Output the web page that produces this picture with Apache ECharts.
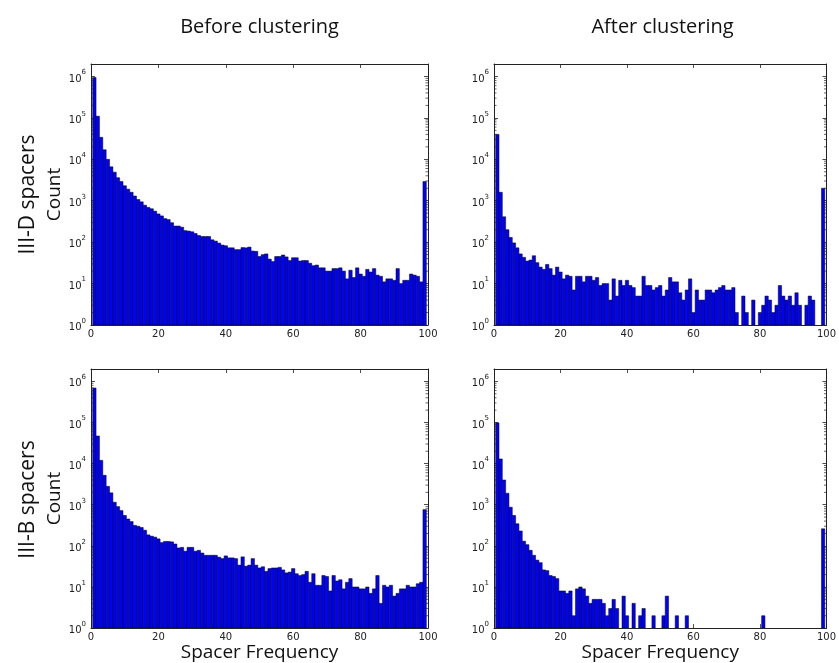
<!DOCTYPE html>
<html>
<head>
<meta charset="utf-8">
<script src="https://cdn.jsdelivr.net/npm/echarts@6/dist/echarts.min.js"></script>
<style>
  html, body { margin: 0; padding: 0; background: #fff; }
  #chart { width: 839px; height: 663px; }
</style>
</head>
<body>
<div id="chart"></div>
<script>
// bin centres (spacer frequency, %)
const bins = [
  1, 2, 3, 4, 5, 6, 7, 8, 9, 10, 11, 12, 13, 14, 15, 16, 17, 18, 19, 20,
  21, 22, 23, 24, 25, 26, 27, 28, 29, 30, 31, 32, 33, 34, 35, 36, 37, 38, 39, 40,
  41, 42, 43, 44, 45, 46, 47, 48, 49, 50, 51, 52, 53, 54, 55, 56, 57, 58, 59, 60,
  61, 62, 63, 64, 65, 66, 67, 68, 69, 70, 71, 72, 73, 74, 75, 76, 77, 78, 79, 80,
  81, 82, 83, 84, 85, 86, 87, 88, 89, 90, 91, 92, 93, 94, 95, 96, 97, 98, 99
];

// III-D, before clustering
const beforeD = [
  950000, 110000, 34000, 17000, 10000, 6600, 4900, 3600, 2900, 2300,
  1900, 1600, 1300, 1070, 940, 780, 690, 640, 560, 480,
  430, 370, 350, 295, 245, 245, 230, 190, 185, 178,
  162, 145, 137, 137, 137, 114, 106, 95, 85, 82,
  73, 73, 66, 66, 74, 73, 76, 61, 60, 45,
  50, 52, 39, 34, 45, 45, 49, 44, 36, 42,
  42, 35, 36, 36, 31, 27, 28, 24, 24, 20,
  20, 23, 23, 24, 20, 13, 21, 14, 24, 17,
  15, 22, 19, 23, 16, 15, 11, 13, 13, 12,
  23, 10, 12, 12, 17, 16, 15, 11, 2900
];

// III-D, after clustering
const afterD = [
  40000, 1600, 410, 200, 130, 96, 73, 52, 43, 35,
  37, 47, 32, 25, 22, 29, 23, 16, 25, 19,
  13, 16, 15, 7, 15, 15, 11, 15, 15, 12,
  14, 9, 10, 10, 4, 13, 5, 12, 9, 12,
  9, 8, 5, 5, 15, 9, 9, 7, 8, 9,
  5, 7, 14, 11, 11, 6, 4, 7, 13, 2,
  7, 4, 4, 7, 7, 6, 7, 8, 9, 7,
  7, 8, 2, 0, 5, 2, 0, 4, 0, 2,
  3, 5, 4, 2, 3, 9, 5, 4, 5, 3,
  6, 3, 0, 3, 5, 4, 0, 0, 2000
];

// III-B, before clustering
const beforeB = [
  690000, 47000, 12000, 5200, 2800, 1950, 1150, 900, 720, 550,
  450, 390, 315, 300, 280, 240, 185, 172, 163, 148,
  120, 128, 128, 125, 111, 89, 92, 74, 92, 92,
  74, 78, 67, 59, 59, 59, 59, 53, 49, 57,
  51, 51, 49, 34, 54, 32, 34, 49, 34, 29,
  31, 24, 28, 29, 29, 30, 26, 22, 23, 28,
  21, 19, 20, 24, 13, 21, 11, 11, 19, 18,
  8, 19, 14, 15, 9, 13, 16, 10, 10, 9,
  9, 10, 7, 9, 19, 4, 11, 10, 11, 6,
  7, 9, 9, 11, 10, 10, 12, 13, 760
];

// III-B, after clustering
const afterB = [
  98000, 13000, 4000, 1900, 870, 550, 345, 230, 130, 107,
  78, 59, 45, 39, 26, 25, 19, 18, 16, 8,
  8, 7, 8, 2, 9, 10, 9, 6, 4, 5,
  5, 5, 4, 2, 3, 5, 3, 0, 6, 2,
  0, 4, 0, 2, 3, 0, 0, 2, 0, 0,
  2, 6, 0, 0, 2, 0, 0, 2, 0, 0,
  0, 0, 0, 0, 0, 0, 0, 0, 0, 0,
  0, 0, 0, 0, 0, 0, 0, 0, 0, 0,
  2, 0, 0, 0, 0, 0, 0, 0, 0, 0,
  0, 0, 0, 0, 0, 0, 0, 0, 260
];

const xMin = 0, xMax = 100, xStep = 20;
const yMin = 1, yMax = 2000000;
const colTitles = ['Before clustering', 'After clustering'];
const rowTitles = ['III-D spacers', 'III-B spacers'];
const xName = 'Spacer Frequency';
const yName = 'Count';

const panels = [
  { row: 0, col: 0, counts: beforeD },
  { row: 0, col: 1, counts: afterD },
  { row: 1, col: 0, counts: beforeB },
  { row: 1, col: 1, counts: afterB }
];

// layout (px)
const colLeft = [91, 494];
const rowTop = [64, 369];
const plotW = 337, plotH = 261;
const frame = '#222';
const tickFont = 'DejaVu Sans';
const textFont = '"Open Sans", "Noto Sans", sans-serif';

function renderBar(params, api) {
  const x = api.value(0);
  const y = api.value(1);
  const tl = api.coord([x - 0.5, y]);
  const br = api.coord([x + 0.5, yMin]);
  return {
    type: 'rect',
    shape: { x: tl[0], y: tl[1], width: br[0] - tl[0], height: br[1] - tl[1] },
    style: { fill: '#0000ff', stroke: '#000', lineWidth: 0.5 }
  };
}

// matplotlib-style log minor ticks on both vertical sides
const minorVals = [];
for (let d = 0; d <= 6; d++) {
  for (let m = 2; m <= 9; m++) {
    const v = m * Math.pow(10, d);
    if (v < yMax) minorVals.push(v);
  }
}
function renderMinor(params, api) {
  const v = api.value(0);
  const l = api.coord([xMin, v]);
  const r = api.coord([xMax, v]);
  const st = { stroke: frame, lineWidth: 0.7 };
  return {
    type: 'group',
    children: [
      { type: 'line', shape: { x1: l[0], y1: l[1], x2: l[0] + 2.5, y2: l[1] }, style: st },
      { type: 'line', shape: { x1: r[0] - 2.5, y1: r[1], x2: r[0], y2: r[1] }, style: st }
    ]
  };
}

function logLabel(v) {
  const e = Math.round(Math.log10(v));
  if (Math.abs(v - Math.pow(10, e)) > 1e-6 * v) return '';
  return '{b|10}{s|' + e + '}';
}

const grid = [], xAxis = [], yAxis = [], series = [];
panels.forEach((p, i) => {
  grid.push({ left: colLeft[p.col], top: rowTop[p.row], width: plotW, height: plotH });
  const lineStyle = { color: frame, width: 1 };
  const tickIn = { show: true, inside: true, length: 4, lineStyle: { color: frame, width: 0.8 } };
  xAxis.push({
    type: 'value', gridIndex: i, min: xMin, max: xMax, interval: xStep,
    axisLine: { show: true, onZero: false, lineStyle },
    axisTick: tickIn,
    splitLine: { show: false },
    axisLabel: { color: '#222', fontFamily: tickFont, fontSize: 10, margin: 4 },
    name: p.row === 1 ? xName : '',
    nameLocation: 'middle', nameGap: 13,
    nameTextStyle: { color: '#111', fontFamily: textFont, fontSize: 19 }
  });
  xAxis.push({
    type: 'value', gridIndex: i, position: 'top', min: xMin, max: xMax, interval: xStep,
    axisLine: { show: true, onZero: false, lineStyle },
    axisTick: tickIn, splitLine: { show: false }, axisLabel: { show: false }
  });
  yAxis.push({
    type: 'log', logBase: 10, gridIndex: i, min: yMin, max: yMax, splitNumber: 6,
    axisLine: { show: true, onZero: false, lineStyle },
    axisTick: tickIn,
    splitLine: { show: false },
    axisLabel: {
      formatter: logLabel, margin: 5,
      rich: {
        b: { fontFamily: tickFont, fontSize: 10, color: '#222', lineHeight: 15, verticalAlign: 'bottom' },
        s: { fontFamily: tickFont, fontSize: 7, color: '#222', lineHeight: 15, verticalAlign: 'top' }
      }
    },
    name: p.col === 0 ? yName : '',
    nameLocation: 'middle', nameGap: 27, nameRotate: 90,
    nameTextStyle: { color: '#111', fontFamily: textFont, fontSize: 19 }
  });
  yAxis.push({
    type: 'log', logBase: 10, gridIndex: i, position: 'right', min: yMin, max: yMax, splitNumber: 6,
    axisLine: { show: true, onZero: false, lineStyle },
    axisTick: tickIn, splitLine: { show: false }, axisLabel: { show: false }
  });
  series.push({
    type: 'custom', xAxisIndex: 2 * i, yAxisIndex: 2 * i,
    renderItem: renderBar, clip: true, silent: true,
    data: bins.map((b, k) => [b, p.counts[k]]).filter(d => d[1] > 0)
  });
  series.push({
    type: 'custom', xAxisIndex: 2 * i, yAxisIndex: 2 * i,
    renderItem: renderMinor, silent: true,
    data: minorVals.map(v => [v])
  });
});

const graphic = [];
colTitles.forEach((t, c) => {
  graphic.push({
    type: 'text', x: colLeft[c] + plotW / 2, y: 27,
    style: { text: t, font: '20px ' + textFont, fill: '#111', textAlign: 'center', textVerticalAlign: 'middle' }
  });
});
rowTitles.forEach((t, r) => {
  graphic.push({
    type: 'text', x: 28, y: rowTop[r] + plotH / 2, rotation: Math.PI / 2,
    style: { text: t, font: '21px ' + textFont, fill: '#111', textAlign: 'center', textVerticalAlign: 'middle' }
  });
});

const chart = echarts.init(document.getElementById('chart'));
chart.setOption({
  animation: false,
  backgroundColor: '#fff',
  grid, xAxis, yAxis, series, graphic
});
</script>
</body>
</html>
